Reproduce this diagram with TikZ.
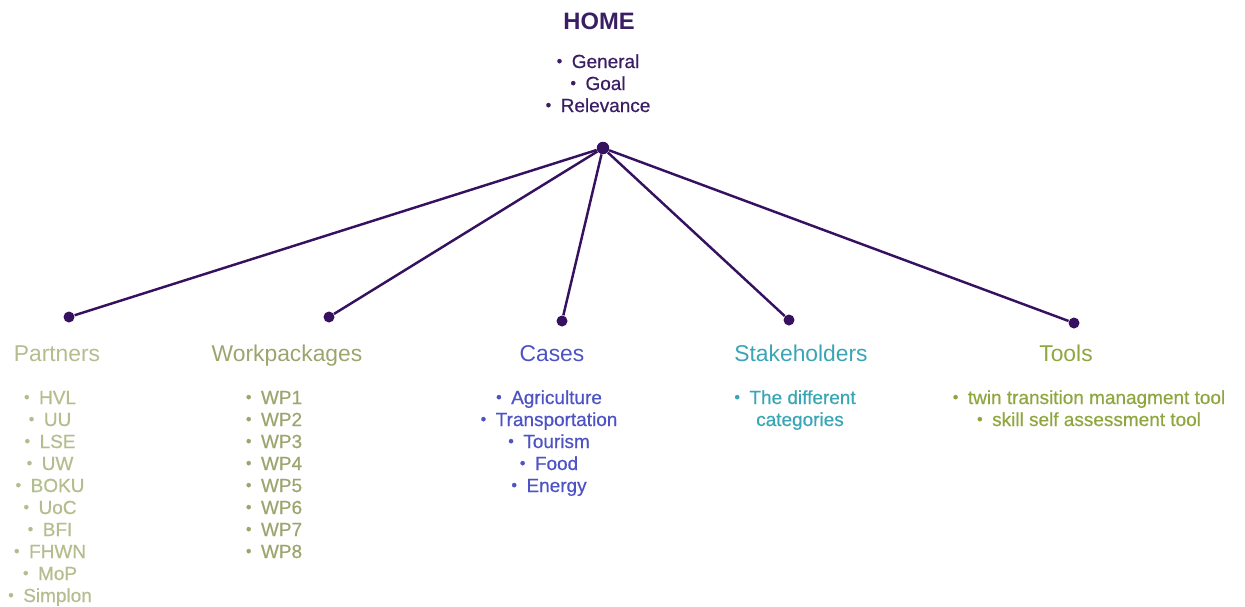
\documentclass[tikz,border=0pt]{standalone}
\usepackage{fontspec}
\setmainfont{Liberation Sans}
\newfontfamily\medfont{Liberation Sans}[FakeBold=0.6]
\usepackage{tikz}
\usetikzlibrary{positioning}

\definecolor{homecol}{HTML}{3B1D63}
\definecolor{linecol}{HTML}{35115F}
\definecolor{partnercol}{HTML}{B3BD8E}
\definecolor{workcol}{HTML}{9CA56E}
\definecolor{casecol}{HTML}{4D52C4}
\definecolor{stakecol}{HTML}{3AA5B5}
\definecolor{toolcol}{HTML}{8FA640}

% small bullet with a wider gap
\newcommand{\itm}{\raisebox{0.08em}{\scalebox{0.85}{\textbullet}}\hspace{0.5em}}

\tikzset{
  title/.style={anchor=base, inner sep=0pt, font=\fontsize{13}{15}\selectfont},
  item/.style={anchor=base, inner sep=0pt, font=\medfont\fontsize{10.8}{12.5}\selectfont},
  hubdot/.style={circle, fill=linecol, inner sep=0pt, minimum size=0.25cm},
  leafdot/.style={circle, fill=linecol, inner sep=0pt, minimum size=0.22cm},
  link/.style={draw=linecol, line width=1.4pt}
}

\begin{document}
\begin{tikzpicture}[x=0.02cm, y=-0.02cm]
    \useasboundingbox (0,0) rectangle (1245,606);

    % Draw home title and its items
    \node[title, text=homecol, font=\fontsize{13.5}{15}\selectfont\bfseries] (home) at (599,29) {HOME};
    \foreach \i/\w in {1/General, 2/Goal, 3/Relevance} {
      \node[item, text=homecol] (home-\i) at (598,{46+22*\i}) {\itm\w};
    }

    % Draw hub and the branches
    \node[hubdot] (hub) at (603,148) {};
    \foreach \n/\x/\y in {partners/69/317, work/329/317, cases/562/321, stake/789/320, tools/1074/323} {
      \node[leafdot] (\n-dot) at (\x,\y) {};
      \draw[link] (hub) -- (\n-dot);
    }

    % Titles of the branches
    \node[title, text=partnercol] (partners) at (57,361) {Partners};
    \node[title, text=workcol] (work) at (287,361) {Workpackages};
    \node[title, text=casecol] (cases) at (552,361) {Cases};
    \node[title, text=stakecol] (stake) at (801,361) {Stakeholders};
    \node[title, text=toolcol] (tools) at (1066,361) {Tools};

    % Items below each title
    \foreach \i/\w in {1/HVL, 2/UU, 3/LSE, 4/UW, 5/BOKU, 6/UoC, 7/BFI, 8/FHWN, 9/MoP, 10/Simplon} {
      \node[item, text=partnercol] (partners-\i) at (50,{382+22*\i}) {\itm\w};
    }
    \foreach \i in {1,...,8} {
      \node[item, text=workcol] (work-\i) at (274,{382+22*\i}) {\itm WP\i};
    }
    \foreach \i/\w in {1/Agriculture, 2/Transportation, 3/Tourism, 4/Food, 5/Energy} {
      \node[item, text=casecol] (cases-\i) at (549,{382+22*\i}) {\itm\w};
    }
    \node[item, text=stakecol] (stake-1) at (795,404) {\itm The different};
    \node[item, text=stakecol] (stake-2) at (800,426) {categories};
    \node[item, text=toolcol] (tools-1) at (1089,404) {\itm twin transition managment tool};
    \node[item, text=toolcol] (tools-2) at (1089,426) {\itm skill self assessment tool};
\end{tikzpicture}
\end{document}
